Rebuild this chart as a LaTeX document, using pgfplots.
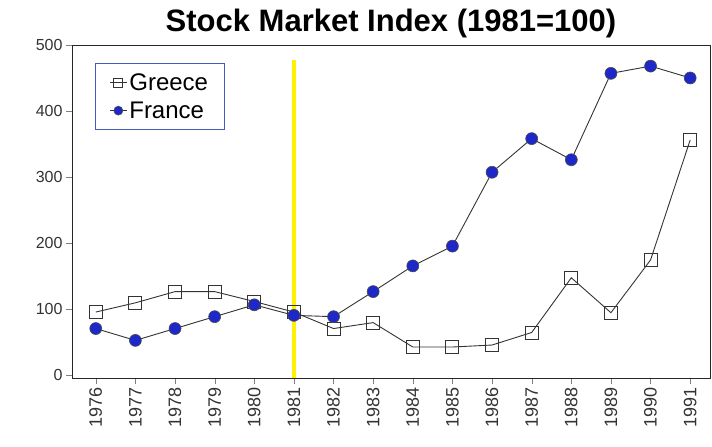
\documentclass[border=0pt]{standalone}
\usepackage{pgfplots}
\pgfplotsset{compat=1.18}
\usepackage{fontspec}
\setmainfont{Liberation Sans}
\definecolor{franceblue}{RGB}{30,40,200}
\definecolor{legblue}{RGB}{70,90,190}
\begin{document}
\begin{tikzpicture}
  \begin{axis}[
      scale only axis,
      width=638pt, height=333pt,
      xmin=1975.4, xmax=1991.5,
      ymin=-5, ymax=500,
      xtick={1976,...,1991},
      ytick={0,100,200,300,400,500},
      xticklabel style={rotate=90, anchor=east, font=\fontsize{18}{18}\selectfont, text=black!80},
      yticklabel style={font=\fontsize{16}{16}\selectfont, text=black!80},
      /pgf/number format/assume math mode=true,
      /pgf/number format/1000 sep={},
      tick align=outside,
      xtick pos=bottom, ytick pos=left,
      major tick length=6pt,
      axis line style={black!85, line width=0.9pt},
      title={\bfseries Stock Market Index (1981=100)},
      title style={font=\fontsize{31}{31}\selectfont, yshift=-2pt},
      legend style={at={(0.036,0.946)}, anchor=north west,
        draw=legblue, line width=0.8pt,
        font=\fontsize{24}{24}\selectfont, row sep=6pt,
        inner xsep=14pt, inner ysep=8pt},
      legend image post style={mark size=4.5pt},
      legend cell align=left,
    ]
    \addplot[black!80, line width=0.9pt, mark=square, mark size=6.5pt,
             mark options={fill=white, line width=1pt, solid}]
      coordinates {
        (1976,95) (1977,109) (1978,126) (1979,126) (1980,111)
        (1981,95) (1982,70) (1983,79) (1984,42) (1985,42)
        (1986,45) (1987,64) (1988,147) (1989,94) (1990,174) (1991,356)
      };
    \addlegendentry{Greece}
    \addplot[black!80, line width=0.9pt, mark=*, mark size=6pt,
             mark options={fill=franceblue, draw=black!70, line width=0.6pt, solid}]
      coordinates {
        (1976,70) (1977,52) (1978,70) (1979,88) (1980,106)
        (1981,90) (1982,88) (1983,126) (1984,165) (1985,195)
        (1986,307) (1987,358) (1988,326) (1989,457) (1990,468) (1991,450)
      };
    \addlegendentry{France}
    \draw[yellow, line width=4pt] (axis cs:1981,477) -- (axis cs:1981,-5);
  \end{axis}
  \path (current axis.south west) ++(-72pt,-69pt);
  \path (current axis.north east) ++(2pt,45pt);
\end{tikzpicture}
\end{document}
